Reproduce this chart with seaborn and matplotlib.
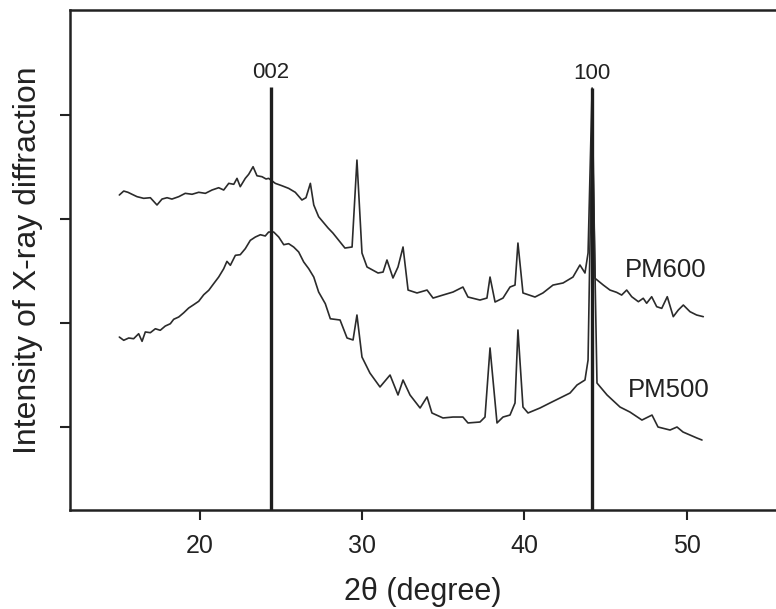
import matplotlib
matplotlib.use("Agg")
import matplotlib.pyplot as plt
import seaborn as sns
import pandas as pd

# ---- data (2theta in degree, intensity in a.u.) ----
pm600_2theta = [15.04, 15.31, 15.57, 15.82, 16.13, 16.54, 16.95, 17.36, 17.67, 17.98,
                18.28, 18.70, 19.10, 19.52, 19.93, 20.34, 20.75, 21.16, 21.47, 21.78,
                22.09, 22.29, 22.49, 22.80, 23.01, 23.28, 23.52, 23.83, 24.08, 24.24,
                24.65, 25.06, 25.47, 25.88, 26.29, 26.54, 26.81, 27.02, 27.32, 27.90,
                28.20, 28.94, 29.38, 29.68, 29.99, 30.30, 30.98, 31.29, 31.53, 31.90,
                32.21, 32.52, 32.83, 33.38, 34.00, 34.37, 34.98, 35.60, 36.21, 36.52,
                37.26, 37.69, 37.88, 38.19, 38.68, 39.11, 39.42, 39.60, 39.91, 40.65,
                41.14, 41.76, 42.38, 42.99, 43.42, 43.73, 43.92, 44.17, 44.35, 44.86,
                45.27, 45.68, 45.99, 46.30, 46.61, 47.02, 47.32, 47.53, 47.84, 48.15,
                48.46, 48.80, 49.17, 49.48, 49.79, 50.20, 50.61, 51.02]
pm600_int = [302.9, 306.7, 305.5, 303.6, 301.3, 299.7, 300.3, 293.3, 299.0, 300.3,
             299.0, 301.3, 304.5, 303.6, 305.5, 304.5, 307.7, 309.9, 307.7, 314.1,
             313.2, 318.9, 310.9, 318.9, 322.8, 330.1, 321.4, 320.5, 318.3, 318.9,
             314.1, 311.8, 309.3, 305.5, 298.1, 300.3, 314.1, 293.3, 282.0, 271.2,
             266.3, 251.9, 252.9, 336.5, 247.1, 233.7, 227.9, 228.8, 240.4, 223.1,
             233.7, 252.9, 211.5, 208.7, 211.5, 203.8, 206.7, 209.6, 214.4, 204.8,
             201.9, 203.8, 224.0, 200.0, 203.8, 214.4, 216.3, 256.7, 208.7, 204.8,
             208.7, 216.3, 218.3, 224.0, 235.6, 227.9, 247.1, 405.8, 222.8, 216.3,
             211.5, 209.3, 206.7, 211.5, 205.1, 200.3, 203.6, 198.8, 205.1, 195.5,
             193.9, 205.1, 185.9, 192.3, 197.1, 190.7, 187.5, 185.9]

pm500_2theta = [15.04, 15.31, 15.62, 15.92, 16.23, 16.44, 16.64, 16.95, 17.26, 17.56,
                17.87, 18.18, 18.39, 18.70, 19.01, 19.31, 19.62, 19.93, 20.24, 20.55,
                20.85, 21.16, 21.47, 21.67, 21.88, 22.19, 22.49, 22.80, 23.11, 23.42,
                23.73, 24.03, 24.24, 24.55, 24.86, 25.17, 25.47, 25.78, 26.09, 26.40,
                26.71, 27.02, 27.32, 27.73, 28.04, 28.64, 29.07, 29.44, 29.68, 29.99,
                30.48, 31.10, 31.72, 32.21, 32.52, 32.95, 33.57, 34.00, 34.30, 34.98,
                35.60, 36.21, 36.52, 37.26, 37.57, 37.88, 38.31, 38.68, 39.11, 39.42,
                39.60, 39.91, 40.22, 40.96, 41.57, 42.19, 42.81, 43.24, 43.73, 43.92,
                44.17, 44.47, 45.09, 45.89, 46.50, 47.24, 47.86, 48.23, 48.97, 49.40,
                49.77, 50.20, 50.63, 50.94]
pm500_int = [166.3, 163.2, 165.4, 164.7, 169.5, 162.2, 171.2, 170.5, 174.3, 172.8,
             176.9, 179.1, 183.4, 185.6, 189.7, 194.2, 197.4, 200.7, 207.0, 211.3,
             217.6, 224.0, 232.0, 239.1, 235.3, 244.9, 245.5, 251.3, 259.3, 262.5,
             264.7, 263.5, 267.3, 267.3, 262.5, 255.1, 256.1, 252.9, 248.1, 238.5,
             232.0, 224.0, 209.6, 198.4, 183.9, 182.7, 165.4, 163.5, 187.5, 147.1,
             131.7, 118.3, 129.8, 110.6, 125.0, 110.6, 98.1, 108.7, 93.3, 88.5,
             89.4, 89.4, 83.7, 84.6, 89.4, 155.8, 83.7, 89.4, 91.3, 102.9,
             173.1, 99.0, 93.3, 98.1, 102.9, 107.7, 112.5, 120.2, 125.0, 144.2,
             380.0, 122.1, 110.6, 99.0, 94.2, 86.5, 91.3, 79.8, 76.9, 79.8,
             75.0, 72.1, 69.2, 67.3]

peak_pos = [24.37, 44.17]
peak_top = [407.0, 405.8]
peak_labels = ["002", "100"]

series_names = ["PM600", "PM500"]
series_label_x = [46.2, 46.38]
series_label_y = [230.8, 115.4]

x_ticks = [20, 30, 40, 50]
y_ticks = [80, 180, 280, 380]

# ---- build table ----
df = pd.concat([
    pd.DataFrame({"two_theta": pm600_2theta, "intensity": pm600_int, "sample": "PM600"}),
    pd.DataFrame({"two_theta": pm500_2theta, "intensity": pm500_int, "sample": "PM500"}),
], ignore_index=True)

sns.set_style("ticks")
plt.rcParams["font.family"] = ["Liberation Sans", "DejaVu Sans"]

fig = plt.figure(figsize=(7.76, 6.09), dpi=100)
ax = fig.add_axes([70 / 776, 99 / 609, 706 / 776, 500 / 609])

sns.lineplot(data=df, x="two_theta", y="intensity", units="sample", estimator=None,
             color="#2b2b2b", linewidth=1.2, sort=False, ax=ax, legend=False)

ax.vlines(peak_pos, 0, peak_top, color="#1e1e1e", linewidth=2.4, zorder=3)
for xp, yt, lab in zip(peak_pos, peak_top, peak_labels):
    ax.text(xp, yt + 14, lab, ha="center", va="center", fontsize=16, color="#222222")

for name, lx, ly in zip(series_names, series_label_x, series_label_y):
    ax.text(lx, ly, name, ha="left", va="center", fontsize=18.5, color="#222222")

ax.set_xlim(12, 55.5)
ax.set_ylim(0, 480.8)
ax.set_xticks(x_ticks)
ax.set_yticks(y_ticks)
ax.set_yticklabels([])
ax.tick_params(axis="x", labelsize=18, length=7, width=1.5, colors="#222222", pad=10)
ax.tick_params(axis="y", length=7, width=1.5, colors="#222222")

for side in ["left", "bottom", "top"]:
    ax.spines[side].set_linewidth(1.8)
    ax.spines[side].set_color("#222222")
ax.spines["right"].set_visible(False)

ax.set_xlabel("2θ (degree)", fontsize=22, color="#222222", labelpad=14)
ax.set_ylabel("Intensity of X-ray diffraction", fontsize=23, color="#222222", labelpad=9)

fig.savefig("out.png", dpi=100)
